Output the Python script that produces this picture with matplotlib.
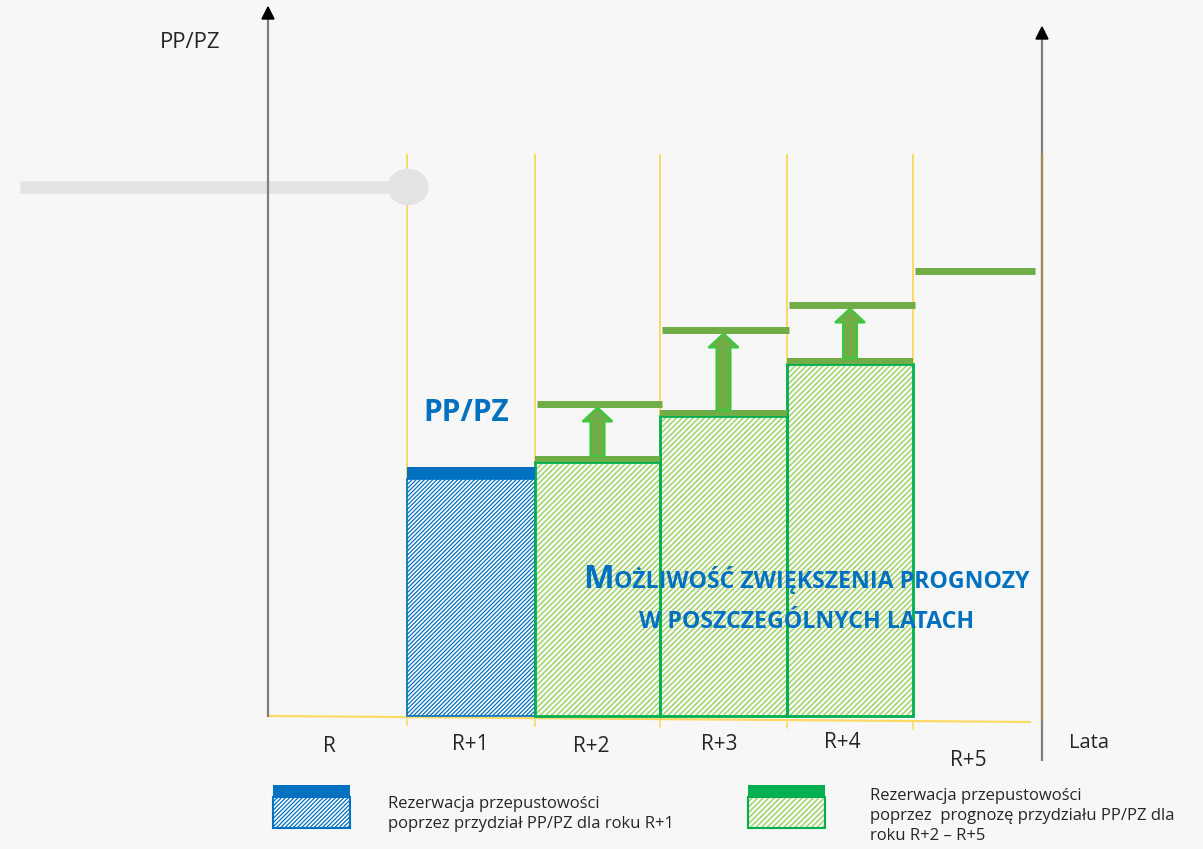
import matplotlib
matplotlib.use('Agg')
import matplotlib.pyplot as plt
from matplotlib.patches import Rectangle, FancyArrow, Ellipse, Polygon

plt.rcParams['font.family'] = ['Open Sans', 'DejaVu Sans']
plt.rcParams['hatch.linewidth'] = 0.9

# years on the horizontal axis
years = ['R', 'R+1', 'R+2', 'R+3', 'R+4', 'R+5']
# slot boundaries along the time axis (pixels of the drawing)
slot_edges = [268, 407, 535, 660, 787, 913, 1041]

# capacity reserved by PP/PZ allocation for R+1
reserved_r1 = 237
# current forecast for R+2 .. R+4
forecast_now = [254, 300, 352]
# possible (raised) forecast for R+2 .. R+5
forecast_up = [312, 386, 411, 445]

legend_texts = [
    'Rezerwacja przepustowości\npoprzez przydział PP/PZ dla roku R+1',
    'Rezerwacja przepustowości\npoprzez  prognozę przydziału PP/PZ dla\nroku R+2 \u2013 R+5',
]

BLUE = '#0070c0'
GREEN_EDGE = '#00b050'
GREEN_HATCH = '#92d050'
OLIVE = '#70ad47'
YELLOW = '#ffd966'
GREY = '#7f7f7f'
TXT = '#262626'

fig = plt.figure(figsize=(12.03, 8.49), dpi=100)
fig.patch.set_facecolor('#f7f7f7')
ax = fig.add_axes([0, 0, 1, 1])
ax.set_xlim(0, 1203)
ax.set_ylim(-133, 716)
ax.axis('off')


def hatched_box(x0, x1, y0, y1, hatch, hcolor, ecolor, face, lw, z=3):
    ax.add_patch(Rectangle((x0, y0), x1 - x0, y1 - y0, facecolor=face,
                           edgecolor=hcolor, hatch=hatch, linewidth=0, zorder=z))
    ax.add_patch(Rectangle((x0, y0), x1 - x0, y1 - y0, fill=False,
                           edgecolor=ecolor, linewidth=lw, zorder=z + 0.1))


# yellow grid lines between years
for x in slot_edges[1:6]:
    ax.plot([x, x], [0, 561], color=YELLOW, lw=1.4, zorder=1)

# baseline (slightly tilted) with ticks
x_start, x_end = slot_edges[0], 1030
tilt = -6 / (x_end - x_start)
ax.plot([x_start, x_end], [0, (x_end - x_start) * tilt], color=YELLOW, lw=1.6, zorder=1)
for x in slot_edges[1:6]:
    yb = (x - x_start) * tilt
    ax.plot([x, x], [yb, yb - 8], color=YELLOW, lw=1.2, zorder=1)

# grey slider in the background
ax.plot([20, 408], [529, 529], color='#e3e3e3', lw=9, solid_capstyle='butt', zorder=2)
ax.add_patch(Ellipse((408, 529), 40, 35, color='#e3e3e3', zorder=2))

# axes with arrow heads
ax.plot([268, 268], [0, 698], color=GREY, lw=1.6, zorder=4)
ax.add_patch(Polygon([[262, 697], [274, 697], [268, 709]], closed=True, color='black', zorder=5))
ax.plot([1042, 1042], [-44, 678], color=GREY, lw=1.6, zorder=4)
ax.plot([1042, 1042], [-4, 561], color='#a08c55', lw=1.6, zorder=4)
ax.add_patch(Polygon([[1036, 677], [1048, 677], [1042, 689]], closed=True, color='black', zorder=5))

# R+1 bar (blue)
x0, x1 = slot_edges[1], slot_edges[2]
hatched_box(x0, x1, 0, reserved_r1, '////////', BLUE, BLUE, 'white', 1.2)
ax.add_patch(Rectangle((x0, reserved_r1), x1 - x0, 12, color=BLUE, lw=0, zorder=4))

# R+2 .. R+4 bars (green) with arrows up to raised forecast
for i, v in enumerate(forecast_now):
    x0, x1 = slot_edges[2 + i], slot_edges[3 + i]
    hatched_box(x0, x1, 0, v, '//////', GREEN_HATCH, GREEN_EDGE, '#f7f7f7', 2.0)
    ax.add_patch(Rectangle((x0, v), x1 - x0, 6, color=OLIVE, lw=0, zorder=4))
    xc = (x0 + x1) / 2
    base = v + 6
    top = forecast_up[i] - 3.5
    ax.add_patch(FancyArrow(xc, base, 0, top - base, width=14, head_width=30,
                            head_length=14, length_includes_head=True,
                            facecolor=OLIVE, edgecolor='#3cc83c', lw=1.5, zorder=5))

# raised forecast levels
for i, v in enumerate(forecast_up):
    x0, x1 = slot_edges[2 + i], slot_edges[3 + i]
    ax.plot([x0 + 2, min(x1 + 2, 1035)], [v, v], color=OLIVE, lw=5,
            solid_capstyle='butt', zorder=6)

# year labels
label_pos = [(329, -30), (470, -28), (591, -30), (719, -28), (842, -26), (968, -44)]
for name, (x, y) in zip(years, label_pos):
    ax.text(x, y, name, ha='center', va='center', fontsize=15, color=TXT, zorder=7)
ax.text(1089, -27, 'Lata', ha='center', va='center', fontsize=14.5, color=TXT)
ax.text(190, 674, 'PP/PZ', ha='center', va='center', fontsize=16, color=TXT)

# blue PP/PZ label
ax.text(466, 303, 'PP/PZ', ha='center', va='center', fontsize=21.5,
        fontweight='bold', color=BLUE, zorder=7)

# small caps annotation
fig.canvas.draw()
renderer = fig.canvas.get_renderer()
lines = [('M', 'OŻLIWOŚĆ ZWIĘKSZENIA PROGNOZY', 806, 128),
         ('', 'W POSZCZEGÓLNYCH LATACH', 807, 88)]
for big, small, xc, yb in lines:
    parts = []
    if big:
        parts.append(ax.text(0, yb, big, fontsize=23.5, fontweight='bold', color=BLUE,
                             ha='left', va='baseline', zorder=7))
    parts.append(ax.text(0, yb, small, fontsize=16.7, fontweight='bold', color=BLUE,
                         ha='left', va='baseline', zorder=7))
    widths = [p.get_window_extent(renderer).width for p in parts]
    x = xc - sum(widths) / 2
    for p, w in zip(parts, widths):
        p.set_x(x)
        x += w

# legend
for k, (lx, tx, col, hcol, face, hatch, ty) in enumerate([
        (273, 388, BLUE, BLUE, 'white', '////////', -98),
        (748, 870, GREEN_EDGE, GREEN_HATCH, '#f7f7f7', '//////', -100)]):
    hatched_box(lx, lx + 77, -112, -81, hatch, hcol, col, face, 1.5)
    ax.add_patch(Rectangle((lx, -81), 77, 12, color=col, lw=0, zorder=4))
    ax.text(tx, ty, legend_texts[k], ha='left', va='center', fontsize=12,
            color=TXT, linespacing=1.35)

fig.savefig('out.png', dpi=100, facecolor=fig.get_facecolor())
